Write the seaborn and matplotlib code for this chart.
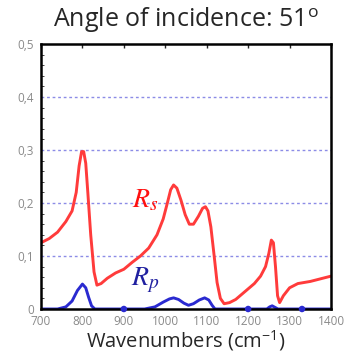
import matplotlib.pyplot as plt
import seaborn as sns
import pandas as pd

# Wavenumbers (cm^-1) and reflectance values
wn_s = [700, 720, 740, 760, 775, 785, 792, 798, 803, 808, 813, 820, 828, 835, 845,
        860, 880, 900, 920, 940, 960, 980, 995, 1005, 1013, 1020, 1028, 1038, 1048,
        1058, 1068, 1080, 1090, 1097, 1103, 1110, 1118, 1125, 1133, 1142, 1155,
        1170, 1185, 1200, 1215, 1230, 1242, 1250, 1256, 1261, 1266, 1271, 1276,
        1285, 1300, 1320, 1350, 1380, 1400]
rs = [0.125, 0.133, 0.145, 0.165, 0.185, 0.22, 0.27, 0.297, 0.297, 0.275, 0.22,
      0.14, 0.07, 0.045, 0.048, 0.058, 0.068, 0.075, 0.088, 0.1, 0.115, 0.14, 0.17,
      0.2, 0.225, 0.234, 0.228, 0.205, 0.178, 0.16, 0.16, 0.175, 0.19, 0.193,
      0.185, 0.155, 0.1, 0.05, 0.02, 0.01, 0.012, 0.018, 0.028, 0.038, 0.048,
      0.062, 0.08, 0.105, 0.13, 0.125, 0.08, 0.025, 0.012, 0.025, 0.04, 0.048,
      0.052, 0.058, 0.062]

wn_p = [700, 740, 760, 775, 788, 800, 808, 815, 822, 830, 950, 975, 995, 1010,
        1020, 1032, 1045, 1056, 1068, 1082, 1095, 1105, 1113, 1120, 1245, 1252,
        1258, 1265, 1272, 1400]
rp = [0.0, 0.0, 0.004, 0.015, 0.035, 0.047, 0.04, 0.022, 0.006, 0.0, 0.0, 0.004,
      0.013, 0.019, 0.021, 0.018, 0.011, 0.007, 0.01, 0.017, 0.021, 0.017, 0.007,
      0.0, 0.0, 0.004, 0.006, 0.003, 0.0, 0.0]

# blue marker dots sitting on the zero line
wn_dots = [900, 1200, 1330]
rp_dots = [0.0, 0.0, 0.0]

x_ticks = [700, 800, 900, 1000, 1100, 1200, 1300, 1400]
y_ticks = [0, 0.1, 0.2, 0.3, 0.4, 0.5]
y_labels = ['0', '0,1', '0,2', '0,3', '0,4', '0,5']

df_s = pd.DataFrame({'wn': wn_s, 'R': rs})
df_p = pd.DataFrame({'wn': wn_p, 'R': rp})
df_dots = pd.DataFrame({'wn': wn_dots, 'R': rp_dots})

sns.set_style('white')
plt.rcParams['font.family'] = ['Open Sans', 'DejaVu Sans']
plt.rcParams['mathtext.fontset'] = 'custom'
plt.rcParams['mathtext.rm'] = 'Open Sans'
plt.rcParams['mathtext.it'] = 'STIXGeneral:italic'

fig = plt.figure(figsize=(3.5, 3.57), dpi=100)
ax = fig.add_axes([41 / 350, 1 - 309 / 357, 290 / 350, 265 / 357])

sns.lineplot(data=df_s, x='wn', y='R', ax=ax, color='#ff3b3b', lw=2.1)
sns.lineplot(data=df_p, x='wn', y='R', ax=ax, color='#2a2ad0', lw=2.1)
sns.scatterplot(data=df_dots, x='wn', y='R', ax=ax, color='#2a2ad0', s=22,
                edgecolor='none', clip_on=False, zorder=5)

ax.set_xlim(700, 1400)
ax.set_ylim(0, 0.5)
ax.set_xticks(x_ticks)
ax.set_xticklabels([str(t) for t in x_ticks], color='#8a8a8a', fontsize=8.5)
ax.set_yticks(y_ticks)
ax.set_yticklabels(y_labels, color='#8a8a8a', fontsize=8.5)
ax.set_yticks([i * 0.02 for i in range(26)], minor=True)
ax.tick_params(axis='both', which='major', direction='in', length=3, width=1,
               top=True)
ax.tick_params(axis='x', which='major', pad=4)
ax.tick_params(axis='y', which='major', pad=5)
ax.tick_params(axis='y', which='minor', direction='in', length=2, left=True)

for yv in [0.1, 0.2, 0.3, 0.4]:
    ax.axhline(yv, color='#7070e0', lw=1, ls=(0, (2, 2)), alpha=0.8, zorder=0)

for s in ax.spines.values():
    s.set_color('black')
    s.set_linewidth(1.8)

ax.text(951, 0.205, '$R_s$', color='#ff1010', fontsize=20, ha='center', va='center')
ax.text(951, 0.055, '$R_p$', color='#2020a0', fontsize=20, ha='center', va='center')

ax.set_xlabel('Wavenumbers (cm$^{-1}$)', fontsize=14.5, labelpad=1)
ax.set_ylabel('')
fig.text(186 / 350, 1 - 19 / 357, 'Angle of incidence: 51$^{\\rm o}$', fontsize=18,
         ha='center', va='center')

fig.savefig('out.png', dpi=100)
